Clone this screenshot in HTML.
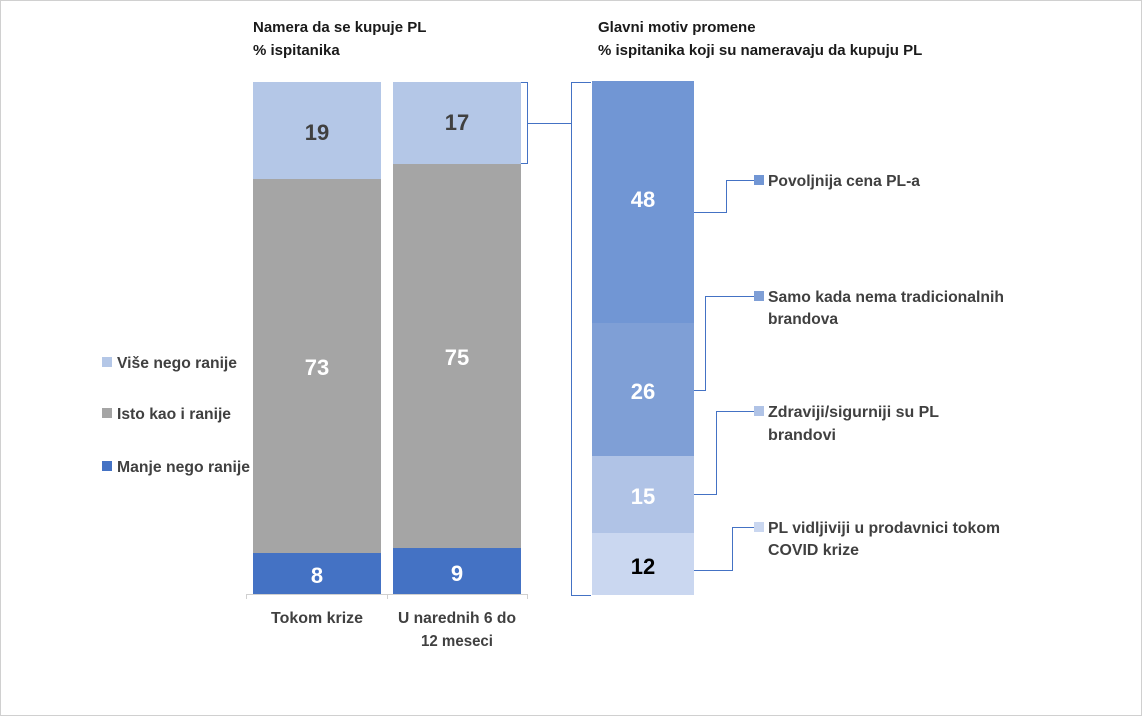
<!DOCTYPE html>
<html><head><meta charset="utf-8"><style>
html,body{margin:0;padding:0;background:#fff}
svg{display:block}
text{font-family:"Liberation Sans",sans-serif}
</style></head><body>
<svg width="1142" height="716" viewBox="0 0 1142 716" xmlns="http://www.w3.org/2000/svg">
<rect x="0.5" y="0.5" width="1141" height="715" fill="#fff" stroke="#d0d0d0"/>
<g font-weight="bold" font-size="15" fill="#1a1a1a">
<text x="253" y="32">Namera da se kupuje PL</text>
<text x="253" y="55">% ispitanika</text>
<text x="598" y="32">Glavni motiv promene</text>
<text x="598" y="55">% ispitanika koji su nameravaju da kupuju PL</text>
</g>
<rect x="253" y="82" width="128" height="97" fill="#b4c7e7"/>
<rect x="253" y="179" width="128" height="374" fill="#a5a5a5"/>
<rect x="253" y="553" width="128" height="41" fill="#4472c4"/>
<rect x="393" y="82" width="128" height="82" fill="#b4c7e7"/>
<rect x="393" y="164" width="128" height="384" fill="#a5a5a5"/>
<rect x="393" y="548" width="128" height="46" fill="#4472c4"/>
<g font-weight="bold" font-size="22" text-anchor="middle">
<text x="317" y="140" fill="#404040">19</text>
<text x="317" y="375" fill="#fff">73</text>
<text x="317" y="583" fill="#fff">8</text>
<text x="457" y="130" fill="#404040">17</text>
<text x="457" y="365" fill="#fff">75</text>
<text x="457" y="581" fill="#fff">9</text>
</g>
<path d="M246 594.5H528M246.5 594V599M387.5 594V599M527.5 594V599" stroke="#d0d0d0" fill="none"/>
<g font-weight="bold" font-size="16" fill="#404040" text-anchor="middle">
<text x="317" y="623" textLength="92" lengthAdjust="spacingAndGlyphs">Tokom krize</text>
<text x="457" y="623" textLength="118" lengthAdjust="spacingAndGlyphs">U narednih 6 do</text>
<text x="457" y="646" textLength="72" lengthAdjust="spacingAndGlyphs">12 meseci</text>
</g>
<rect x="102" y="357" width="10" height="10" fill="#b4c7e7"/>
<rect x="102" y="408" width="10" height="10" fill="#a5a5a5"/>
<rect x="102" y="461" width="10" height="10" fill="#4472c4"/>
<g font-weight="bold" font-size="16" fill="#404040">
<text x="117" y="368" textLength="120" lengthAdjust="spacingAndGlyphs">Više nego ranije</text>
<text x="117" y="419" textLength="114" lengthAdjust="spacingAndGlyphs">Isto kao i ranije</text>
<text x="117" y="472" textLength="133" lengthAdjust="spacingAndGlyphs">Manje nego ranije</text>
</g>
<path d="M521 82.5H527.5V163.5H521M527 123.5H571.5M591 82.5H571.5V595.5H591" stroke="#4472c4" stroke-width="1" fill="none"/>
<rect x="592" y="81" width="102" height="242" fill="#7196d4"/>
<rect x="592" y="323" width="102" height="133" fill="#7f9fd6"/>
<rect x="592" y="456" width="102" height="77" fill="#b0c3e6"/>
<rect x="592" y="533" width="102" height="62" fill="#cad7f0"/>
<g font-weight="bold" font-size="22" text-anchor="middle">
<text x="643" y="207" fill="#fff">48</text>
<text x="643" y="399" fill="#fff">26</text>
<text x="643" y="504" fill="#fff">15</text>
<text x="643" y="574" fill="#000">12</text>
</g>
<path d="M694 212.5H726.5V180.5H754M694 390.5H705.5V296.5H754M694 494.5H716.5V411.5H754M694 570.5H732.5V527.5H754" stroke="#4472c4" stroke-width="1" fill="none"/>
<rect x="754" y="175" width="10" height="10" fill="#7196d4"/>
<rect x="754" y="291" width="10" height="10" fill="#7f9fd6"/>
<rect x="754" y="406" width="10" height="10" fill="#b0c3e6"/>
<rect x="754" y="522" width="10" height="10" fill="#cad7f0"/>
<g font-weight="bold" font-size="16" fill="#404040">
<text x="768" y="186" textLength="152" lengthAdjust="spacingAndGlyphs">Povoljnija cena PL-a</text>
<text x="768" y="302" textLength="236" lengthAdjust="spacingAndGlyphs">Samo kada nema tradicionalnih</text>
<text x="768" y="324" textLength="70" lengthAdjust="spacingAndGlyphs">brandova</text>
<text x="768" y="417" textLength="171" lengthAdjust="spacingAndGlyphs">Zdraviji/sigurniji su PL</text>
<text x="768" y="440" textLength="68" lengthAdjust="spacingAndGlyphs">brandovi</text>
<text x="768" y="533" textLength="232" lengthAdjust="spacingAndGlyphs">PL vidljiviji u prodavnici tokom</text>
<text x="768" y="555" textLength="91" lengthAdjust="spacingAndGlyphs">COVID krize</text>
</g>
</svg>
</body></html>
